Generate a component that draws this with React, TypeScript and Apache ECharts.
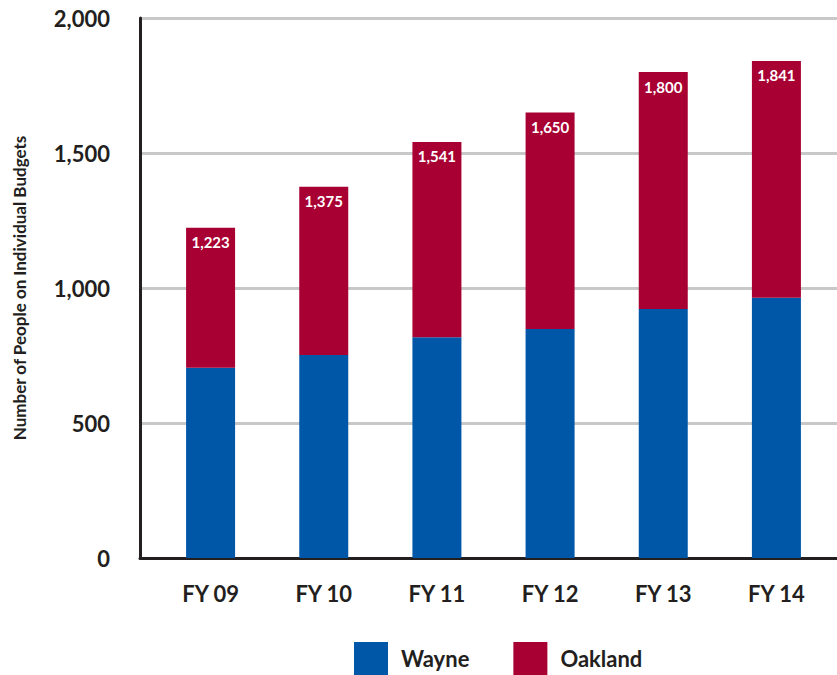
import React, { useEffect, useRef } from "react";
import * as echarts from "echarts";

const categories = ["FY 09", "FY 10", "FY 11", "FY 12", "FY 13", "FY 14"];
const wayne = [705, 752, 818, 848, 922, 964];
const oakland = [518, 623, 723, 802, 878, 877];
const totals = [1223, 1375, 1541, 1650, 1800, 1841];
const yTicks = { min: 0, max: 2000, interval: 500 };

const FONT = "Lato, 'Open Sans', sans-serif";
const TEXT = "#231F20";

export default function App() {
  const ref = useRef<HTMLDivElement>(null);
  useEffect(() => {
    if (!ref.current) return;
    const chart = echarts.init(ref.current, null, { renderer: "svg" });
    chart.setOption({
      animation: false,
      backgroundColor: "#ffffff",
      textStyle: { fontFamily: FONT },
      legend: {
        data: ["Wayne", "Oakland"],
        left: 354,
        top: 642,
        padding: 0,
        itemWidth: 34,
        itemHeight: 33,
        itemGap: 44,
        icon: "rect",
        textStyle: {
          fontFamily: FONT,
          fontSize: 22,
          fontWeight: "bold",
          color: TEXT,
          lineHeight: 26,
          padding: [0, 0, 0, 8],
        },
      },
      grid: [
        { left: 140, right: 0, top: 18, bottom: 117, containLabel: false },
        { left: 154, right: 4, top: 18, bottom: 117, containLabel: false },
      ],
      xAxis: [
        {
          type: "category",
          gridIndex: 0,
          data: categories,
          axisLine: { show: true, lineStyle: { color: TEXT, width: 3 } },
          axisTick: { show: false },
          axisLabel: { show: false },
          splitLine: { show: false },
        },
        {
          type: "category",
          gridIndex: 1,
          data: categories,
          axisLine: { show: false },
          axisTick: { show: false },
          axisLabel: {
            show: true,
            margin: 24,
            fontFamily: FONT,
            fontSize: 22,
            fontWeight: "bold",
            color: TEXT,
          },
        },
      ],
      yAxis: [
        {
          type: "value",
          gridIndex: 0,
          min: yTicks.min,
          max: yTicks.max,
          interval: yTicks.interval,
          name: "Number of People on Individual Budgets",
          nameLocation: "middle",
          nameGap: 112,
          nameTextStyle: {
            fontFamily: FONT,
            fontSize: 17,
            fontWeight: "bold",
            color: TEXT,
          },
          axisLine: { show: true, lineStyle: { color: TEXT, width: 3 } },
          axisTick: { show: false },
          axisLabel: {
            margin: 30,
            fontFamily: FONT,
            fontSize: 22,
            fontWeight: "bold",
            color: TEXT,
            formatter: (v: number) => v.toLocaleString("en-US"),
          },
          splitLine: { show: true, lineStyle: { color: "#C8C8C8", width: 3 } },
        },
        {
          type: "value",
          gridIndex: 1,
          min: yTicks.min,
          max: yTicks.max,
          interval: yTicks.interval,
          show: false,
          splitLine: { show: false },
        },
      ],
      series: [
        {
          name: "Wayne",
          type: "bar",
          stack: "total",
          xAxisIndex: 1,
          yAxisIndex: 1,
          data: wayne,
          barWidth: 49,
          itemStyle: { color: "#0057A8" },
        },
        {
          name: "Oakland",
          type: "bar",
          stack: "total",
          xAxisIndex: 1,
          yAxisIndex: 1,
          data: oakland,
          barWidth: 49,
          itemStyle: { color: "#A90033" },
          label: {
            show: true,
            position: "insideTop",
            distance: 7,
            color: "#ffffff",
            fontFamily: FONT,
            fontSize: 15,
            fontWeight: "bold",
            formatter: (p: any) => totals[p.dataIndex].toLocaleString("en-US"),
          },
        },
      ],
    });
    return () => chart.dispose();
  }, []);
  return <div ref={ref} style={{ width: 837, height: 675, position: "absolute", left: 0, top: 0 }} />;
}
